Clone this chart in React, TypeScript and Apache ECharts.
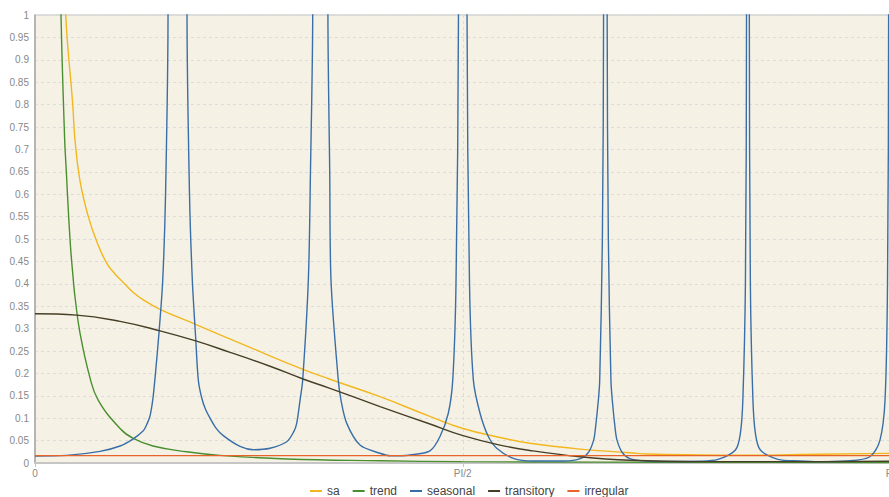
import React, { useEffect, useRef } from "react";
import * as echarts from "echarts";

// x values are frequencies in multiples of PI (0 .. 1), y values are spectrum values
const xTickLabels = ["0", "PI/2", "PI"];
const seriesNames = ["sa", "trend", "seasonal", "transitory", "irregular"];
const seriesColors = ["#f2b71e", "#4a8f2f", "#3a6ea8", "#463f26", "#e8632a"];
const seriesSmooth = [0.45, 0.45, 0.3, 0.45, 0];

const saPoints = [
  [0.0117, 5], [0.0234, 2.0], [0.0292, 1.35], [0.0359, 1.0], [0.0441, 0.8], [0.0468, 0.72],
  [0.0526, 0.63], [0.0623, 0.55], [0.0721, 0.495], [0.0838, 0.446], [0.0935, 0.422],
  [0.1032, 0.403], [0.1146, 0.381], [0.1266, 0.364], [0.1461, 0.343], [0.187, 0.31],
  [0.2513, 0.258], [0.3133, 0.209], [0.3448, 0.187], [0.4033, 0.148], [0.4617, 0.104],
  [0.5003, 0.077], [0.5435, 0.057], [0.5786, 0.044], [0.6371, 0.031], [0.6955, 0.023],
  [0.7154, 0.02], [0.7773, 0.018], [0.8358, 0.0175], [0.8942, 0.019], [1, 0.0215],
];

const trendPoints = [
  [0.0175, 4], [0.0245, 1.6], [0.0304, 1.0], [0.0347, 0.72], [0.0362, 0.665], [0.0409, 0.5],
  [0.0448, 0.408], [0.0468, 0.37], [0.0526, 0.29], [0.0643, 0.19], [0.074, 0.14],
  [0.0994, 0.077], [0.1149, 0.055], [0.1379, 0.038], [0.1773, 0.025], [0.2162, 0.017],
  [0.2942, 0.009], [0.4033, 0.005], [0.4991, 0.003], [0.6604, 0.002], [1, 0.0012],
];

const seasonalPoints = [
  [0, 0.0156], [0.037, 0.017], [0.076, 0.026], [0.0994, 0.038], [0.1149, 0.054], [0.1266, 0.072],
  [0.1297, 0.082], [0.1344, 0.105], [0.1379, 0.145], [0.1408, 0.2], [0.1449, 0.29], [0.1493, 0.408],
  [0.1526, 0.6], [0.1555, 1.0],
  [0.1667, 30],
  [0.1777, 1.0], [0.1806, 0.6], [0.1839, 0.408], [0.1878, 0.28], [0.1909, 0.185], [0.1949, 0.145],
  [0.1993, 0.12], [0.2046, 0.1], [0.2116, 0.078], [0.2201, 0.061], [0.2396, 0.037],
  [0.2552, 0.0297], [0.2747, 0.033], [0.2942, 0.0475], [0.3025, 0.07], [0.3059, 0.0886],
  [0.3098, 0.14], [0.3129, 0.185], [0.3195, 0.408], [0.322, 0.65], [0.3246, 1.0],
  [0.3333, 30],
  [0.3424, 1.0], [0.3445, 0.65], [0.346, 0.408], [0.3545, 0.185], [0.3577, 0.14], [0.3643, 0.089],
  [0.3799, 0.04], [0.4033, 0.0217], [0.4161, 0.016], [0.4383, 0.018], [0.4617, 0.027],
  [0.4734, 0.059], [0.4831, 0.111], [0.4883, 0.185], [0.4921, 0.4], [0.495, 1.0],
  [0.5, 30],
  [0.505, 1.0], [0.5079, 0.4], [0.5124, 0.185], [0.5202, 0.111], [0.5299, 0.059], [0.5397, 0.033],
  [0.5591, 0.0105], [0.5821, 0.0045], [0.6183, 0.0045], [0.6382, 0.0105], [0.6474, 0.025],
  [0.653, 0.051], [0.6549, 0.074], [0.6585, 0.14], [0.6601, 0.185], [0.6632, 0.5], [0.6646, 1.0],
  [0.6667, 30],
  [0.6688, 1.0], [0.6702, 0.5], [0.6732, 0.185], [0.6748, 0.14], [0.6783, 0.074], [0.6803, 0.051],
  [0.6859, 0.025], [0.6947, 0.0105], [0.7145, 0.0045], [0.75, 0.0035], [0.7773, 0.004],
  [0.7983, 0.008], [0.8187, 0.029], [0.8245, 0.066], [0.8274, 0.14], [0.8304, 0.4], [0.8317, 1.0],
  [0.8333, 30],
  [0.835, 1.0], [0.8362, 0.4], [0.8392, 0.14], [0.8421, 0.066], [0.8479, 0.029], [0.8684, 0.008],
  [0.8942, 0.0045], [0.9164, 0.003], [0.9488, 0.0045], [0.976, 0.014], [0.9877, 0.051],
  [0.9936, 0.14], [0.9965, 0.4], [0.9978, 1.0], [1, 30],
];

const transitoryPoints = [
  [0, 0.333], [0.0487, 0.33], [0.0994, 0.316], [0.1461, 0.295], [0.187, 0.273], [0.228, 0.247],
  [0.2747, 0.216], [0.3133, 0.1875], [0.3448, 0.1667], [0.4033, 0.126], [0.4617, 0.087],
  [0.5003, 0.061], [0.5435, 0.04], [0.5786, 0.028], [0.6371, 0.014], [0.6955, 0.006],
  [0.7773, 0.003], [0.8942, 0.003], [1, 0.004],
];

const irregularPoints = [
  [0, 0.0165], [0.25, 0.0165], [0.5, 0.0165], [0.75, 0.0165], [1, 0.0165],
];

const allPoints = [saPoints, trendPoints, seasonalPoints, transitoryPoints, irregularPoints];

export default function App() {
  const ref = useRef<HTMLDivElement>(null);
  useEffect(() => {
    document.body.style.margin = "0";
    if (!ref.current) return;
    const chart = echarts.init(ref.current, null, { renderer: "svg" });
    const font = "'Liberation Sans', Arial, sans-serif";
    chart.setOption({
      animation: false,
      grid: {
        left: 35,
        top: 15,
        right: -1.5,
        bottom: 34,
        show: true,
        backgroundColor: "#f5f2e5",
        borderColor: "#bdbdbd",
        borderWidth: 1,
        outerBoundsMode: "none",
      },
      legend: {
        data: seriesNames,
        left: 310,
        top: 485,
        padding: 0,
        itemGap: 13,
        itemWidth: 12,
        itemHeight: 2,
        icon: "rect",
        textStyle: { fontSize: 12, color: "#444", fontFamily: font, padding: [0, 0, 0, 0] },
      },
      xAxis: {
        type: "value",
        min: 0,
        max: 1,
        interval: 0.5,
        axisLine: { show: true, lineStyle: { color: "#c6c6c6", width: 2 } },
        axisTick: { show: true, length: 4, lineStyle: { color: "#c6c6c6" } },
        axisLabel: {
          margin: 5,
          fontSize: 10,
          color: "#888",
          fontFamily: font,
          formatter: (v: number) => {
            const i = Math.round(v * 2);
            return xTickLabels[i] ?? "";
          },
        },
        splitLine: { show: true, lineStyle: { color: "#dcdcdc", type: [3, 3] } },
      },
      yAxis: {
        type: "value",
        min: 0,
        max: 1,
        interval: 0.05,
        axisLine: { show: true, lineStyle: { color: "#a8a8a8", width: 1.5 } },
        axisTick: { show: false },
        axisLabel: { margin: 6, fontSize: 10, color: "#888", fontFamily: font },
        splitLine: { show: true, lineStyle: { color: "#dcdcdc", type: [3, 3] } },
      },
      series: seriesNames.map((name, i) => ({
        name,
        type: "line",
        data: allPoints[i],
        showSymbol: false,
        symbol: "none",
        clip: true,
        smooth: seriesSmooth[i],
        lineStyle: { color: seriesColors[i], width: 1.4 },
        itemStyle: { color: seriesColors[i] },
      })),
    });
    return () => chart.dispose();
  }, []);
  return <div ref={ref} style={{ width: 889, height: 497 }} />;
}
